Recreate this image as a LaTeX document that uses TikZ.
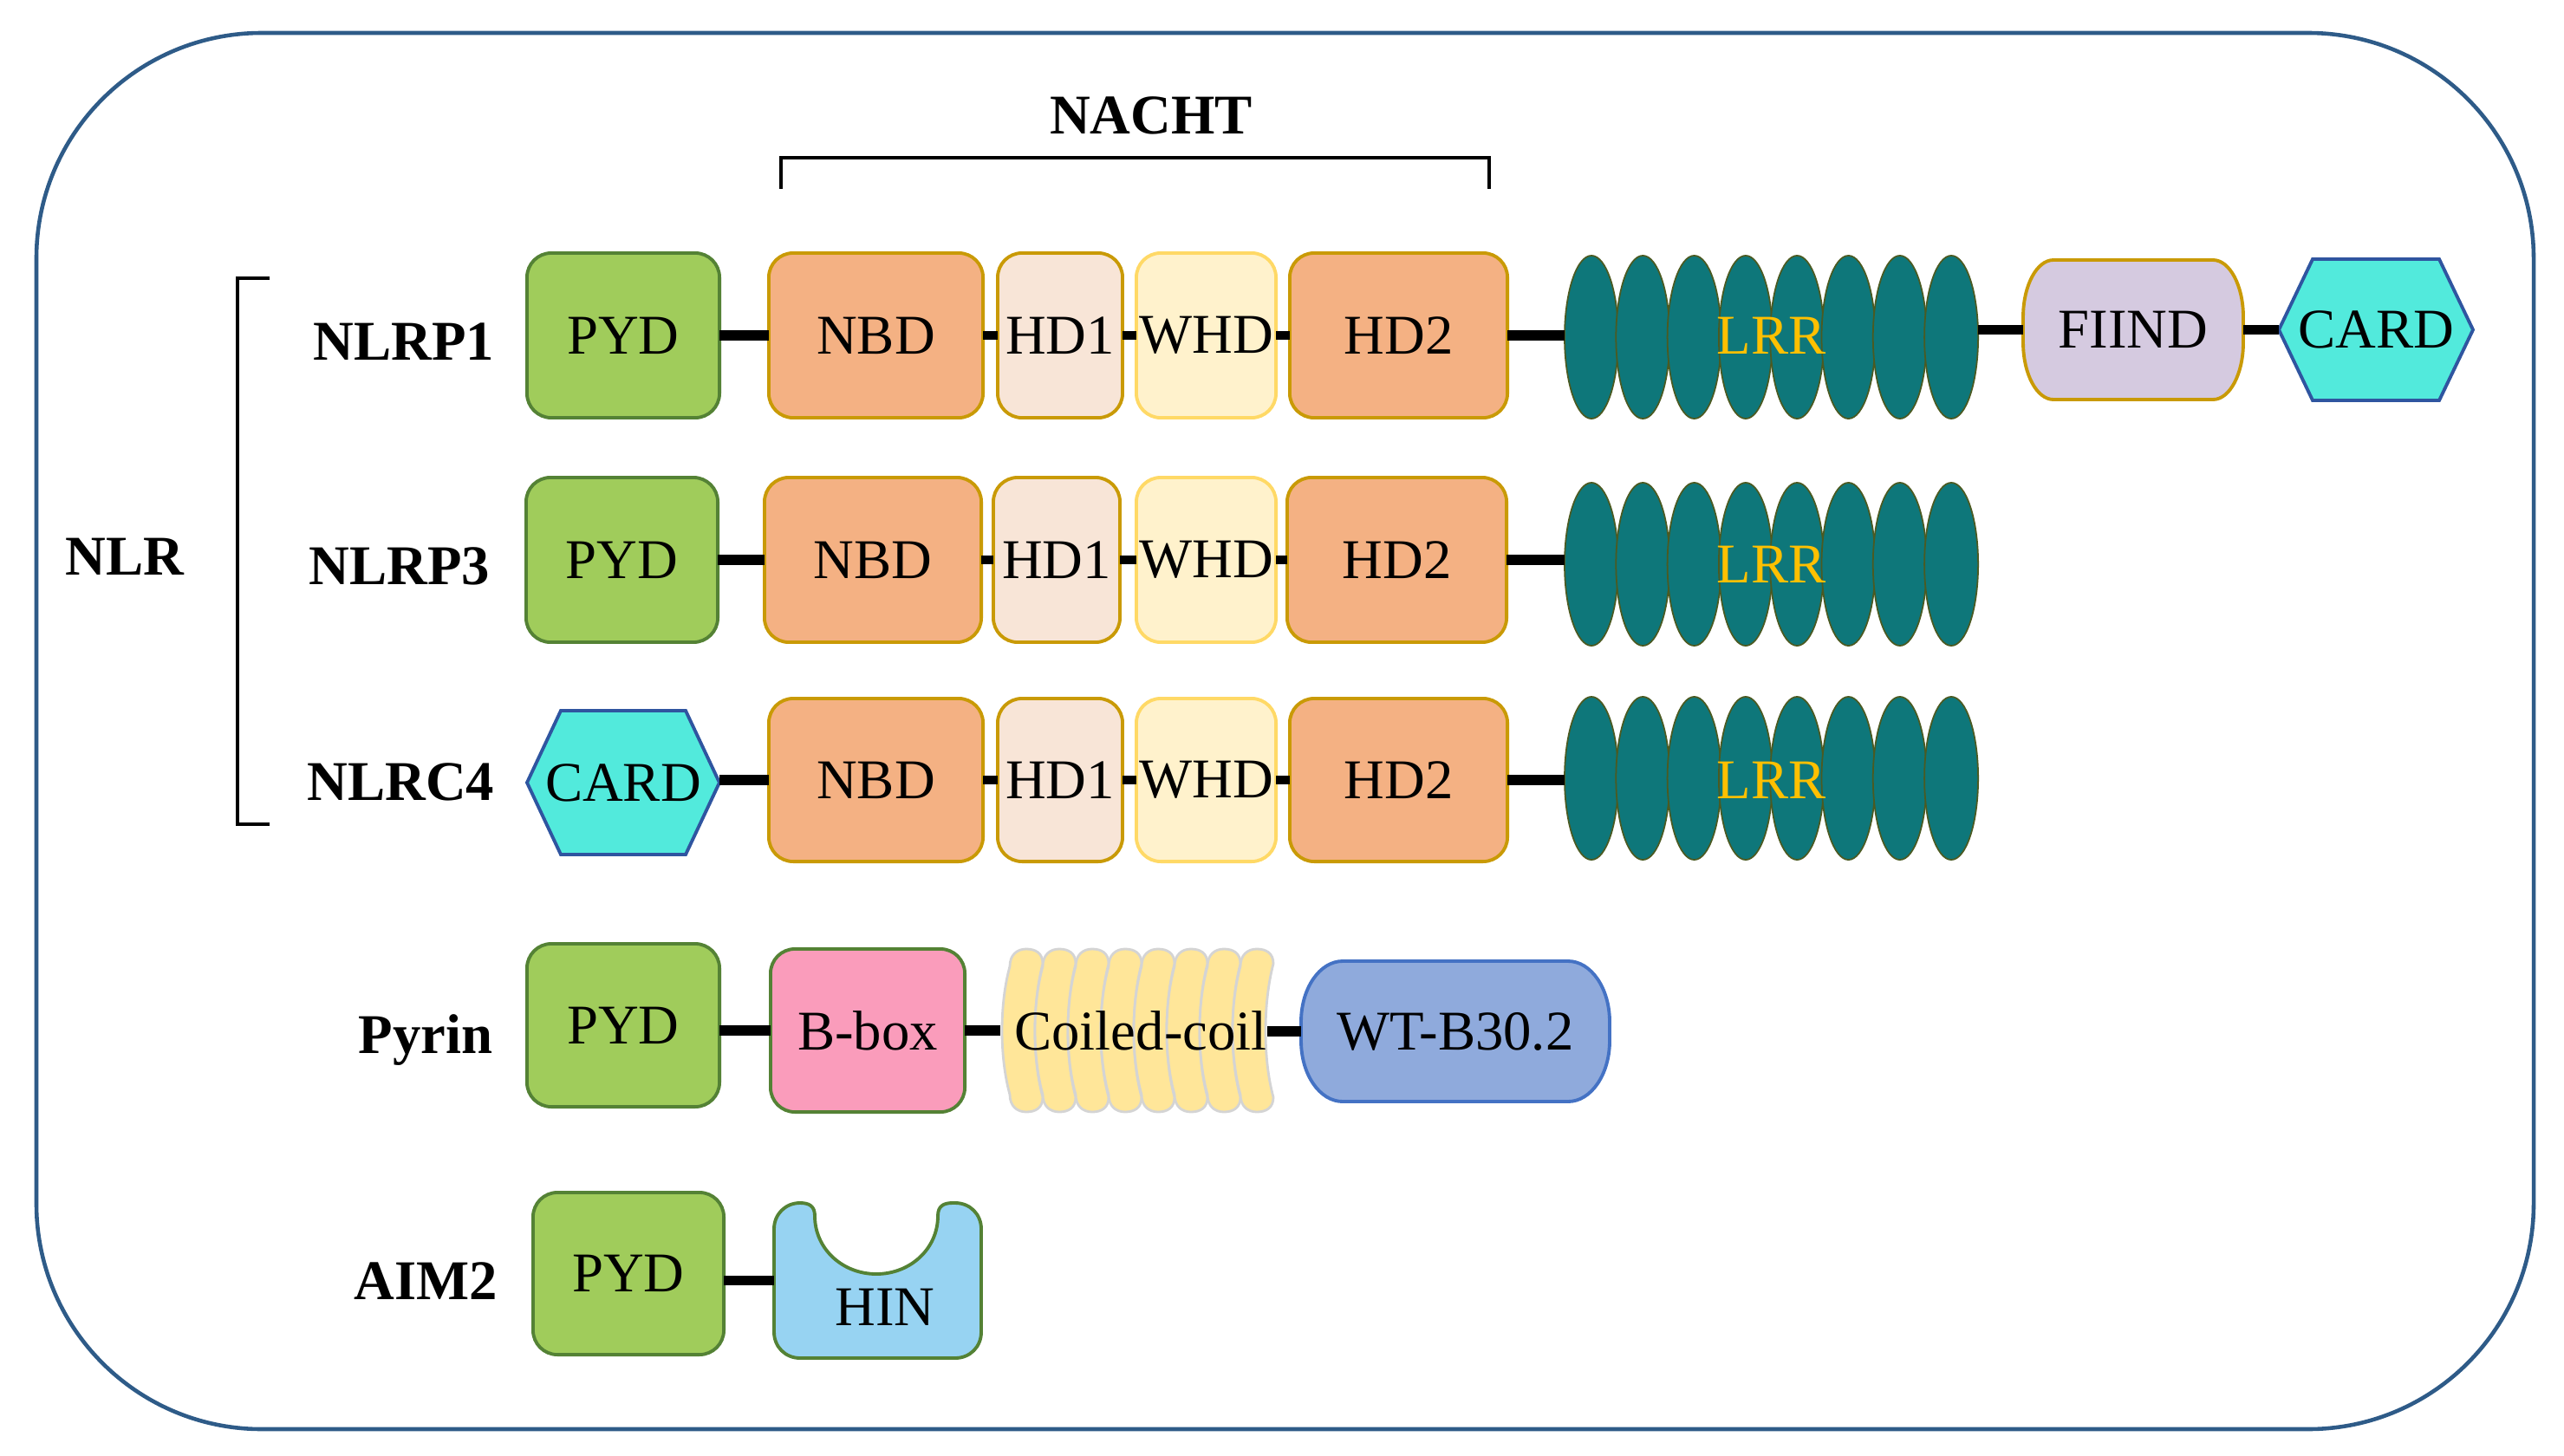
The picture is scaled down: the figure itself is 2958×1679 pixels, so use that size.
\documentclass[tikz,border=0pt]{standalone}
\usepackage{fontspec}
\setmainfont{Liberation Serif}
\definecolor{cPYD}{HTML}{A0CC5B}
\definecolor{cPYDd}{HTML}{548235}
\definecolor{cNBD}{HTML}{F4B183}
\definecolor{cGold}{HTML}{C99A06}
\definecolor{cHDa}{HTML}{F8E5D7}
\definecolor{cWHD}{HTML}{FFF2CC}
\definecolor{cWHDd}{HTML}{FFD966}
\definecolor{cLRR}{HTML}{0E777A}
\definecolor{cLRRd}{HTML}{4B5A22}
\definecolor{cLRRt}{HTML}{FFC000}
\definecolor{cFIIND}{HTML}{D5CAE0}
\definecolor{cCARD}{HTML}{52EADC}
\definecolor{cCARDd}{HTML}{2F55A0}
\definecolor{cBbox}{HTML}{FA9CBB}
\definecolor{cCC}{HTML}{FFE699}
\definecolor{cCCd}{HTML}{D4D4D4}
\definecolor{cWT}{HTML}{8FAADC}
\definecolor{cWTd}{HTML}{4472C4}
\definecolor{cHIN}{HTML}{97D3F2}
\definecolor{cFrame}{HTML}{2E5B88}
\newcommand{\domfont}{\fontsize{18.4}{22}\selectfont}
\newcommand{\labfont}{\fontsize{18.4}{22}\selectfont\bfseries}
% x1,y1,x2,y2,rx,ry,style
\newcommand{\softbox}[7]{%
 \path[#7] (#1,{#2+#6}) .. controls (#1,{#2+0.448*#6}) and ({#1+0.448*#5},#2) .. ({#1+#5},#2)
 -- ({#3-#5},#2) .. controls ({#3-0.448*#5},#2) and (#3,{#2+0.448*#6}) .. (#3,{#2+#6})
 -- (#3,{#4-#6}) .. controls (#3,{#4-0.448*#6}) and ({#3-0.448*#5},#4) .. ({#3-#5},#4)
 -- ({#1+#5},#4) .. controls ({#1+0.448*#5},#4) and (#1,{#4-0.448*#6}) .. (#1,{#4-#6}) -- cycle;}
% x1,y1,x2,y2,inset,style
\newcommand{\hexshape}[6]{%
 \path[#6] (#1,{(#2+#4)/2}) -- ({#1+#5},#2) -- ({#3-#5},#2) -- (#3,{(#2+#4)/2}) -- ({#3-#5},#4) -- ({#1+#5},#4) -- cycle;}
\begin{document}
\begin{tikzpicture}[x=0.01cm,y=-0.01cm,
 dom/.style={draw, line width=1.1pt, rounded corners=8pt, inner sep=0pt, outer sep=0pt, font=\domfont, text=black},
 pydbox/.style={dom, fill=cPYD, draw=cPYDd},
 nbdbox/.style={dom, fill=cNBD, draw=cGold},
 hdabox/.style={dom, fill=cHDa, draw=cGold},
 whdbox/.style={dom, fill=cWHD, draw=cWHDd},
 ghost/.style={inner sep=0pt, outer sep=0pt, font=\domfont, text=black},
 lbl/.style={font=\labfont, inner sep=0pt, anchor=base east},
 link/.style={line width=3.2pt, black},
 slink/.style={line width=2.6pt, black},
 lrrell/.style={fill=cLRR, draw=cLRRd, line width=0.5pt},
 ccband/.style={fill=cCC, draw=cCCd, line width=0.8pt},
 cardhex/.style={fill=cCARD, draw=cCARDd, line width=1.1pt},
 bracket/.style={line width=0.9pt, black}]
\useasboundingbox (0,0) rectangle (2958,1679);
% frame
\draw[cFrame, line width=1.3pt, rounded corners=2.6cm] (42,38) rectangle (2923,1649);
% brackets
\draw[bracket] (901,218) -- (901,182) -- (1718,182) -- (1718,218);
\draw[bracket] (311,321) -- (274,321) -- (274,951) -- (311,951);
\node[font=\labfont, inner sep=0pt, anchor=base] (lNACHT) at (1328,155) {NACHT};
\node[lbl, anchor=base west] (lNLR) at (75,663) {NLR};
% labels
\node[lbl] (lP1) at (571,415) {NLRP1};
\node[lbl] (lP3) at (566,674) {NLRP3};
\node[lbl] (lC4) at (571,923) {NLRC4};
\node[lbl] (lPy) at (569,1215) {Pyrin};
\node[lbl] (lAI) at (575,1499) {AIM2};

% ---------- Row 1: NLRP1
\node[pydbox, minimum width=2.22cm, minimum height=1.90cm] (pyd1) at (719,387) {PYD};
\node[nbdbox, minimum width=2.47cm, minimum height=1.90cm] (nbd1) at (1010.5,387) {NBD};
\node[hdabox, minimum width=1.44cm, minimum height=1.90cm] (hda1) at (1223,387) {HD1};
\node[whdbox, minimum width=1.61cm, minimum height=1.90cm] (whd1) at (1391.5,387) {WHD};
\node[nbdbox, minimum width=2.51cm, minimum height=1.90cm] (hdb1) at (1613.5,387) {HD2};
\foreach \i in {0,...,7}{\path[lrrell] ({1836+59.3*\i},389) ellipse [x radius=0.31cm, y radius=0.94cm];}
\node[ghost, text=cLRRt, minimum width=4.77cm, minimum height=1.88cm] (lrr1) at (2043.5,387) {LRR};
\softbox{2334}{300}{2588}{461}{35}{66}{fill=cFIIND, draw=cGold, line width=1.1pt}
\node[ghost, minimum width=2.54cm, minimum height=1.61cm] (fiind) at (2461,380.5) {FIIND};
\hexshape{2629}{299}{2853}{462}{39}{cardhex}
\node[ghost, minimum width=2.24cm, minimum height=1.63cm] (card1) at (2741,380.5) {CARD};
\draw[link] (pyd1.east) -- (nbd1.west);
\draw[slink] (nbd1.east) -- (hda1.west);
\draw[slink] (hda1.east) -- (whd1.west);
\draw[slink] (whd1.east) -- (hdb1.west);
\draw[link] (hdb1.east) -- (lrr1.west);
\draw[link] (lrr1.east |- fiind.west) -- (fiind.west);
\draw[link] (fiind.east) -- (card1.west);

% ---------- Row 2: NLRP3
\node[pydbox, minimum width=2.21cm, minimum height=1.90cm] (pyd2) at (717.5,646) {PYD};
\node[nbdbox, minimum width=2.50cm, minimum height=1.90cm] (nbd2) at (1007,646) {NBD};
\node[hdabox, minimum width=1.46cm, minimum height=1.90cm] (hda2) at (1219,646) {HD1};
\node[whdbox, minimum width=1.61cm, minimum height=1.90cm] (whd2) at (1391.5,646) {WHD};
\node[nbdbox, minimum width=2.53cm, minimum height=1.90cm] (hdb2) at (1611.5,646) {HD2};
\foreach \i in {0,...,7}{\path[lrrell] ({1836+59.3*\i},651) ellipse [x radius=0.31cm, y radius=0.94cm];}
\node[ghost, text=cLRRt, minimum width=4.77cm, minimum height=1.88cm] (lrr2) at (2043.5,651) {LRR};
\draw[link] (pyd2.east) -- (nbd2.west);
\draw[slink] (nbd2.east) -- (hda2.west);
\draw[slink] (hda2.east) -- (whd2.west);
\draw[slink] (whd2.east) -- (hdb2.west);
\draw[link] (hdb2.east) -- (hdb2.east -| lrr2.west);

% ---------- Row 3: NLRC4
\hexshape{608}{820}{830}{986}{39}{cardhex}
\node[ghost, minimum width=2.22cm, minimum height=1.66cm] (card3) at (719,903) {CARD};
\node[nbdbox, minimum width=2.47cm, minimum height=1.88cm] (nbd3) at (1010.5,900) {NBD};
\node[hdabox, minimum width=1.44cm, minimum height=1.88cm] (hda3) at (1223,900) {HD1};
\node[whdbox, minimum width=1.61cm, minimum height=1.88cm] (whd3) at (1391.5,900) {WHD};
\node[nbdbox, minimum width=2.51cm, minimum height=1.88cm] (hdb3) at (1613.5,900) {HD2};
\foreach \i in {0,...,7}{\path[lrrell] ({1836+59.3*\i},898) ellipse [x radius=0.31cm, y radius=0.94cm];}
\node[ghost, text=cLRRt, minimum width=4.77cm, minimum height=1.88cm] (lrr3) at (2043.5,900) {LRR};
\draw[link] (card3.east |- nbd3.west) -- (nbd3.west);
\draw[slink] (nbd3.east) -- (hda3.west);
\draw[slink] (hda3.east) -- (whd3.west);
\draw[slink] (whd3.east) -- (hdb3.west);
\draw[link] (hdb3.east) -- (lrr3.west);

% ---------- Row 4: Pyrin
\node[pydbox, minimum width=2.22cm, minimum height=1.88cm] (pyd4) at (719,1183) {PYD};
\node[dom, fill=cBbox, draw=cPYDd, minimum width=2.24cm, minimum height=1.88cm] (bbox) at (1001,1189) {B-box};
\foreach \i in {0,...,7}{
 \pgfmathsetmacro{\X}{1165+38*\i}
 \path[ccband] (\X,1115)
  .. controls (\X,1102) and ({\X+8},1095) .. ({\X+19},1095)
  .. controls ({\X+30},1095) and ({\X+38},1100) .. ({\X+38},1112)
  .. controls ({\X+26},1158) and ({\X+26},1222) .. ({\X+38},1266)
  .. controls ({\X+38},1278) and ({\X+30},1283) .. ({\X+19},1283)
  .. controls ({\X+8},1283) and (\X,1276) .. (\X,1263)
  .. controls ({\X-12},1220) and ({\X-12},1158) .. (\X,1115) -- cycle;
}
\node[ghost, minimum width=3.24cm, minimum height=1.88cm] (cc) at (1316,1189) {Coiled-coil};
\softbox{1501}{1109}{1857}{1271}{48}{70}{fill=cWT, draw=cWTd, line width=1.1pt}
\node[ghost, minimum width=3.56cm, minimum height=1.62cm] (wt) at (1679,1190) {WT-B30.2};
\draw[link] (pyd4.east |- bbox.west) -- (bbox.west);
\draw[link] (bbox.east) -- (bbox.east -| cc.west);
\draw[link] (1462,1190) -- (wt.west);

% ---------- Row 5: AIM2
\node[pydbox, minimum width=2.20cm, minimum height=1.87cm] (pyd5) at (725,1469.5) {PYD};
\path[fill=cHIN, draw=cPYDd, line width=1.1pt]
 (893,1418) .. controls (893,1401) and (906,1388) .. (923,1388)
 .. controls (934,1388) and (940,1392) .. (940,1403)
 .. controls (940,1441) and (972,1470) .. (1011,1470)
 .. controls (1050,1470) and (1082,1441) .. (1082,1403)
 .. controls (1082,1392) and (1088,1388) .. (1099,1388)
 -- (1102,1388) .. controls (1119,1388) and (1132,1401) .. (1132,1418)
 -- (1132,1537) .. controls (1132,1554) and (1119,1567) .. (1102,1567)
 -- (923,1567) .. controls (906,1567) and (893,1554) .. (893,1537) -- cycle;
\node[ghost, minimum width=2.39cm, minimum height=1.79cm] (hin) at (1012.5,1477.5) {};
\node[ghost] (hintext) at (1021,1508) {HIN};
\draw[link] (hin.west -| pyd5.east) -- (hin.west);
\end{tikzpicture}
\end{document}
